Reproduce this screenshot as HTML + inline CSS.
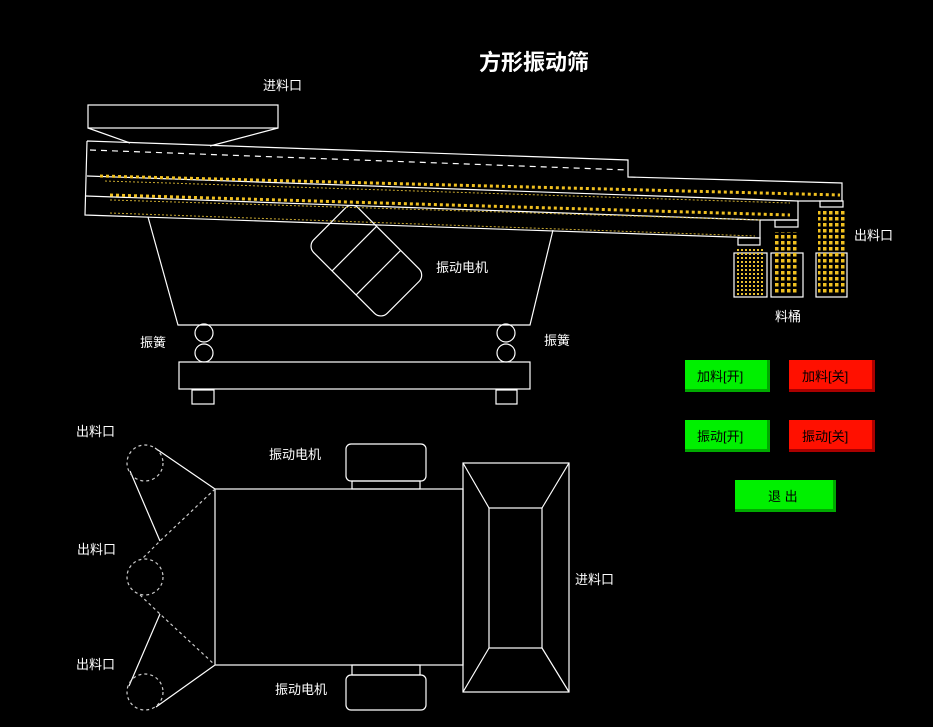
<!DOCTYPE html>
<html><head><meta charset="utf-8"><style>
html,body{margin:0;padding:0;background:#000;width:933px;height:727px;overflow:hidden}
svg{display:block}
text{font-family:"Liberation Sans","Noto Sans CJK SC",sans-serif;fill:#fff;font-size:13px}
.b{font-family:"Liberation Sans","Noto Sans CJK SC",sans-serif;font-size:13px;fill:#000}
</style></head><body>
<svg width="933" height="727" viewBox="0 0 933 727">
<defs>
<pattern id="dots" width="6" height="6" patternUnits="userSpaceOnUse"><rect x="1" y="1" width="3.5" height="3.5" fill="#f0c020"/></pattern>
<pattern id="dots2" width="4" height="4" patternUnits="userSpaceOnUse"><rect x="1" y="1" width="2" height="2" fill="#e8c030"/></pattern>
</defs>
<text x="534" y="70" text-anchor="middle" style="font-size:22px;font-weight:bold">方形振动筛</text>
<text x="263" y="90">进料口</text>
<g fill="none" stroke="#fff" stroke-width="1.2">
<rect x="88" y="105" width="190" height="23"/>
<polyline points="88,128 130,143"/><polyline points="278,128 210,146"/>
<polyline points="87,141 628,160 628,177 842,183 842,201 798,201 798,220 760,220 760,238 85,215 87,141"/>
<line x1="87" y1="176" x2="798" y2="201"/>
<line x1="86" y1="196" x2="760" y2="220"/>
<line x1="90" y1="150" x2="628" y2="170" stroke-dasharray="6,5"/>
<rect x="738" y="238" width="22" height="7"/>
<rect x="775" y="220" width="23" height="7"/>
<rect x="820" y="201" width="23" height="6"/>
<polyline points="148,217 178,325 530,325 553,230"/>
<circle cx="204" cy="333" r="9"/><circle cx="204" cy="353" r="9"/>
<circle cx="506" cy="333" r="9"/><circle cx="506" cy="353" r="9"/>
<rect x="179" y="362" width="351" height="27"/>
<rect x="192" y="390" width="22" height="14"/><rect x="496" y="390" width="21" height="14"/>
<g transform="translate(366,261) rotate(45)">
<rect x="-52" y="-32" width="104" height="63" rx="9"/>
<line x1="-17" y1="-32" x2="-17" y2="31"/>
<line x1="17" y1="-32" x2="17" y2="31"/>
</g>
<rect x="734" y="253" width="33" height="44"/>
<rect x="771" y="253" width="32" height="44"/>
<rect x="816" y="253" width="31" height="44"/>
</g>
<g stroke="#f0c020" stroke-width="3" stroke-dasharray="3,3" fill="none">
<line x1="100" y1="176" x2="840" y2="195"/>
<line x1="110" y1="195" x2="790" y2="215"/>
</g>
<g stroke="#c8a830" stroke-width="1" stroke-dasharray="2,2" fill="none">
<line x1="105" y1="181" x2="790" y2="203"/>
<line x1="110" y1="200" x2="760" y2="220"/>
<line x1="110" y1="213" x2="755" y2="236"/>
</g>
<rect x="737" y="247" width="27" height="48" fill="url(#dots2)"/>
<rect x="775" y="232" width="24" height="63" fill="url(#dots)"/>
<rect x="818" y="209" width="29" height="86" fill="url(#dots)"/>
<text x="436" y="272">振动电机</text>
<text x="854" y="240">出料口</text>
<text x="775" y="321">料桶</text>
<text x="140" y="347">振簧</text>
<text x="544" y="345">振簧</text>
<g fill="none" stroke="#fff" stroke-width="1.2">
<rect x="215" y="489" width="248" height="176"/>
<rect x="463" y="463" width="106" height="229"/>
<rect x="489" y="508" width="53" height="140"/>
<line x1="463" y1="463" x2="489" y2="508"/><line x1="569" y1="463" x2="542" y2="508"/>
<line x1="463" y1="692" x2="489" y2="648"/><line x1="569" y1="692" x2="542" y2="648"/>
<rect x="346" y="444" width="80" height="37" rx="5"/><rect x="352" y="481" width="68" height="8"/>
<rect x="346" y="675" width="80" height="35" rx="5"/><rect x="352" y="665" width="68" height="10"/>
<line x1="155" y1="448" x2="215" y2="489"/><line x1="130" y1="471" x2="160" y2="541"/>
<line x1="160" y1="614" x2="129" y2="686"/><line x1="156" y1="707" x2="215" y2="665"/>
</g>
<g fill="none" stroke="#ccc" stroke-width="1.2" stroke-dasharray="3,3">
<circle cx="145" cy="463" r="18"/><circle cx="145" cy="577" r="18"/><circle cx="145" cy="692" r="18"/>
<polyline points="215,489 160,541 142,559"/>
<polyline points="140,595 160,614 215,665"/>
</g>
<text x="76" y="436">出料口</text>
<text x="77" y="554">出料口</text>
<text x="76" y="669">出料口</text>
<text x="269" y="459">振动电机</text>
<text x="575" y="584">进料口</text>
<text x="275" y="694">振动电机</text>
<g>
<rect x="685" y="360" width="85" height="32" fill="#0a0"/><rect x="685" y="360" width="82" height="29" fill="#00f000"/>
<text class="b" x="697" y="381">加料[开]</text>
<rect x="789" y="360" width="86" height="32" fill="#a00"/><rect x="789" y="360" width="83" height="29" fill="#ff1000"/>
<text class="b" x="802" y="381">加料[关]</text>
<rect x="685" y="420" width="85" height="32" fill="#0a0"/><rect x="685" y="420" width="82" height="29" fill="#00f000"/>
<text class="b" x="697" y="441">振动[开]</text>
<rect x="789" y="420" width="86" height="32" fill="#a00"/><rect x="789" y="420" width="83" height="29" fill="#ff1000"/>
<text class="b" x="802" y="441">振动[关]</text>
<rect x="735" y="480" width="101" height="32" fill="#0a0"/><rect x="735" y="480" width="98" height="29" fill="#00f000"/>
<text class="b" x="768" y="501">退 出</text>
</g>
</svg>
</body></html>
